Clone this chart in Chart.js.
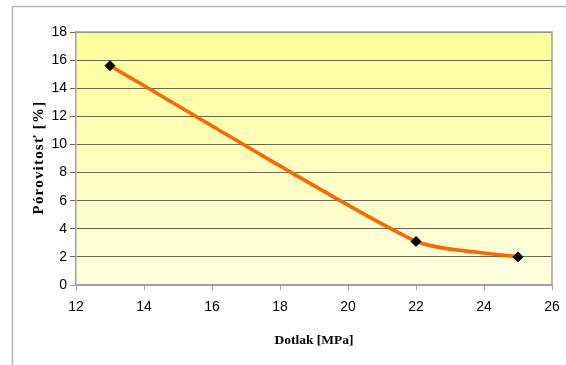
<!DOCTYPE html>
<html>
<head>
<meta charset="utf-8">
<script src="https://cdn.jsdelivr.net/npm/chart.js@4"></script>
<style>
html,body{margin:0;padding:0;background:#fff;}
#wrap{width:566px;height:365px;position:relative;}
</style>
</head>
<body>
<div id="wrap"><canvas id="chart" width="566" height="365"></canvas></div>
<script>
const dotlak=[13,22,25];
const porovitost=[15.6,3.1,2.0];
const xTicks=[12,14,16,18,20,22,24,26];
const yTicks=[0,2,4,6,8,10,12,14,16,18];
const xTitle="Dotlak [MPa]";
const yTitle="Pórovitosť [%]";

const points=dotlak.map((x,i)=>({x:x,y:porovitost[i]}));

// outer frame, yellow gradient behind plot area, spaced y title
const framePlugin={
    id:"frame",
    beforeDraw(chart){
        const ctx=chart.ctx;
        const a=chart.chartArea;
        ctx.save();
        ctx.fillStyle="#ffffff";
        ctx.fillRect(0,0,chart.width,chart.height);
        ctx.strokeStyle="#b4b4b4";
        ctx.lineWidth=1.5;
        ctx.beginPath();
        ctx.moveTo(12.5,366);
        ctx.lineTo(12.5,6.5);
        ctx.lineTo(567,6.5);
        ctx.stroke();
        const g=ctx.createLinearGradient(0,a.top,0,a.bottom);
        g.addColorStop(0,"#ffff99");
        g.addColorStop(1,"#ffffe2");
        ctx.fillStyle=g;
        ctx.fillRect(a.left,a.top,a.right-a.left,a.bottom-a.top);
        ctx.restore();
    },
    afterDatasetsDraw(chart){
        const ctx=chart.ctx;
        const a=chart.chartArea;
        ctx.save();
        ctx.strokeStyle="#a0a0a0";
        ctx.lineWidth=1.5;
        ctx.beginPath();
        ctx.moveTo(a.left,a.top);
        ctx.lineTo(a.right,a.top);
        ctx.lineTo(a.right,a.bottom);
        ctx.stroke();
        ctx.restore();
    },
    afterDraw(chart){
        const ctx=chart.ctx;
        const a=chart.chartArea;
        ctx.save();
        ctx.translate(39,(a.top+a.bottom)/2-1);
        ctx.rotate(-Math.PI/2);
        ctx.font="bold 15px 'Liberation Serif', 'Times New Roman'";
        ctx.letterSpacing="1.2px";
        ctx.fillStyle="#000";
        ctx.textAlign="center";
        ctx.textBaseline="middle";
        ctx.fillText(yTitle,0,0);
        ctx.restore();
    }
};

new Chart(document.getElementById("chart"),{
    type:"scatter",
    data:{
        datasets:[{
            data:points,
            showLine:true,
            borderColor:"#ff6600",
            borderWidth:3.5,
            tension:0.2,
            pointStyle:"rectRot",
            pointRadius:5,
            pointBackgroundColor:"#000000",
            pointBorderColor:"#000000",
            pointBorderWidth:1
        }]
    },
    options:{
        responsive:false,
        animation:false,
        layout:{padding:{left:0,top:32,right:14,bottom:0}},
        plugins:{
            legend:{display:false},
            tooltip:{enabled:false}
        },
        scales:{
            x:{
                type:"linear",
                min:12,
                max:26,
                afterBuildTicks(axis){
                    axis.ticks=xTicks.map(v=>({value:v}));
                },
                afterFit(axis){
                    axis.height=80;
                    axis.paddingLeft=0;
                    axis.paddingRight=0;
                },
                grid:{
                    display:true,
                    drawOnChartArea:false,
                    drawTicks:true,
                    tickLength:5,
                    color:"#a0a0a0",
                    lineWidth:1
                },
                border:{color:"#a0a0a0",width:1.5},
                ticks:{
                    color:"#000",
                    padding:9,
                    maxRotation:0,
                    font:{family:"Liberation Sans, Arial",size:14}
                },
                title:{
                    display:true,
                    text:xTitle,
                    color:"#000",
                    font:{family:"Liberation Serif, Times New Roman",size:13.5,weight:"bold"},
                    padding:{top:0,bottom:16}
                }
            },
            y:{
                type:"linear",
                min:0,
                max:18,
                afterBuildTicks(axis){
                    axis.ticks=yTicks.map(v=>({value:v}));
                },
                afterFit(axis){
                    axis.width=76;
                    axis.paddingTop=0;
                    axis.paddingBottom=0;
                },
                grid:{
                    display:true,
                    drawTicks:true,
                    tickLength:6,
                    color:(c)=>c.tick&&c.tick.value===0?"#a0a0a0":"#6a6a50",
                    lineWidth:1
                },
                border:{color:"#a0a0a0",width:1.5},
                ticks:{
                    color:"#000",
                    padding:3,
                    font:{family:"Liberation Sans, Arial",size:14}
                },
                title:{display:false}
            }
        }
    },
    plugins:[framePlugin]
});
</script>
</body>
</html>
